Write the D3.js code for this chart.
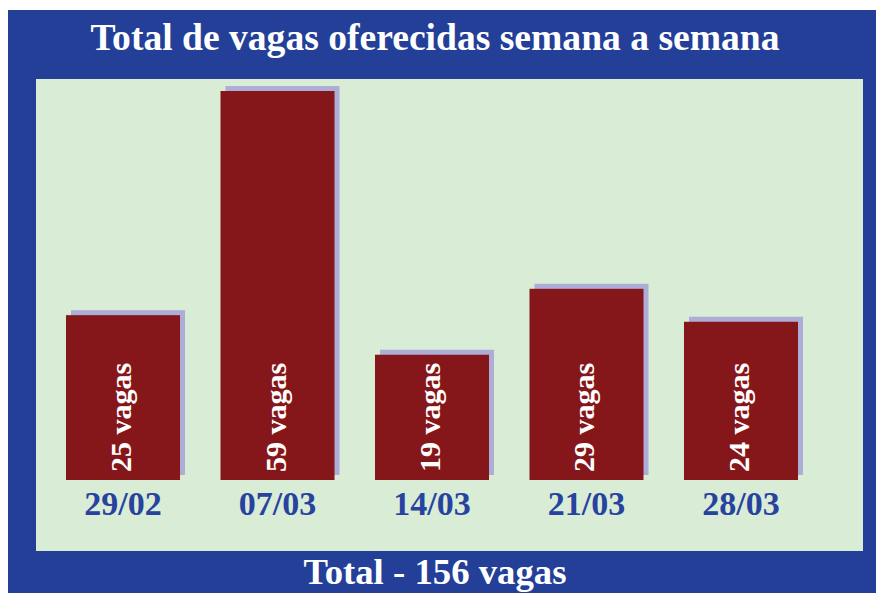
<!DOCTYPE html>
<html>
<head>
<meta charset="utf-8">
<script src="https://cdn.jsdelivr.net/npm/d3@7"></script>
<style>
  body { margin: 0; background: #ffffff; }
  svg { display: block; }
  text { font-family: "Liberation Serif", "DejaVu Serif", serif; font-weight: bold; }
</style>
</head>
<body>
<div id="chart"></div>
<script>
// weekly data
const weeks = ["29/02", "07/03", "14/03", "21/03", "28/03"];
const vagas = [25, 59, 19, 29, 24];
const titleText = "Total de vagas oferecidas semana a semana";
const totalText = "Total - " + d3.sum(vagas) + " vagas";

const width = 876, height = 593;

const svg = d3.select("#chart")
    .append("svg")
    .attr("width", width)
    .attr("height", height);

// blue frame
svg.append("rect")
    .attr("x", 8).attr("y", 10)
    .attr("width", width - 8).attr("height", height - 10)
    .attr("fill", "#233f98");

// light green plot area
svg.append("rect")
    .attr("x", 36).attr("y", 79)
    .attr("width", 827).attr("height", 472)
    .attr("fill", "#d9ecd5");

svg.append("text")
    .attr("x", 435).attr("y", 50)
    .attr("text-anchor", "middle")
    .attr("font-size", 38)
    .attr("textLength", 689)
    .attr("lengthAdjust", "spacingAndGlyphs")
    .attr("fill", "#ffffff")
    .text(titleText);

svg.append("text")
    .attr("x", 435).attr("y", 584)
    .attr("text-anchor", "middle")
    .attr("font-size", 36)
    .attr("textLength", 263)
    .attr("lengthAdjust", "spacingAndGlyphs")
    .attr("fill", "#ffffff")
    .text(totalText);

const x = d3.scaleBand()
    .domain(weeks)
    .range([66, 798])
    .paddingInner(0.262)
    .paddingOuter(0);

const baseY = 480;
const y = d3.scaleLinear()
    .domain([0, 59])
    .range([baseY, 91]);

const data = weeks.map((w, i) => ({week: w, value: vagas[i]}));
const off = 5;

// shadows behind bars
svg.append("g")
    .selectAll("rect")
    .data(data)
    .enter()
    .append("rect")
        .attr("x", d => x(d.week) + off)
        .attr("y", d => y(d.value) - off)
        .attr("width", x.bandwidth())
        .attr("height", d => baseY - y(d.value))
        .attr("fill", "#adadd8");

svg.append("g")
    .selectAll("rect")
    .data(data)
    .enter()
    .append("rect")
        .attr("x", d => x(d.week))
        .attr("y", d => y(d.value))
        .attr("width", x.bandwidth())
        .attr("height", d => baseY - y(d.value))
        .attr("fill", "#85171a");

// vertical labels inside bars
svg.append("g")
    .selectAll("text")
    .data(data)
    .enter()
    .append("text")
        .attr("transform", d => `translate(${x(d.week) + x.bandwidth() / 2 + 8},${baseY - 8}) rotate(-90)`)
        .attr("font-size", 30)
        .attr("fill", "#ffffff")
        .text(d => d.value + " vagas");

// date labels
svg.append("g")
    .selectAll("text")
    .data(data)
    .enter()
    .append("text")
        .attr("x", d => x(d.week) + x.bandwidth() / 2)
        .attr("y", 515)
        .attr("text-anchor", "middle")
        .attr("font-size", 34)
        .attr("fill", "#2743a0")
        .text(d => d.week);
</script>
</body>
</html>
